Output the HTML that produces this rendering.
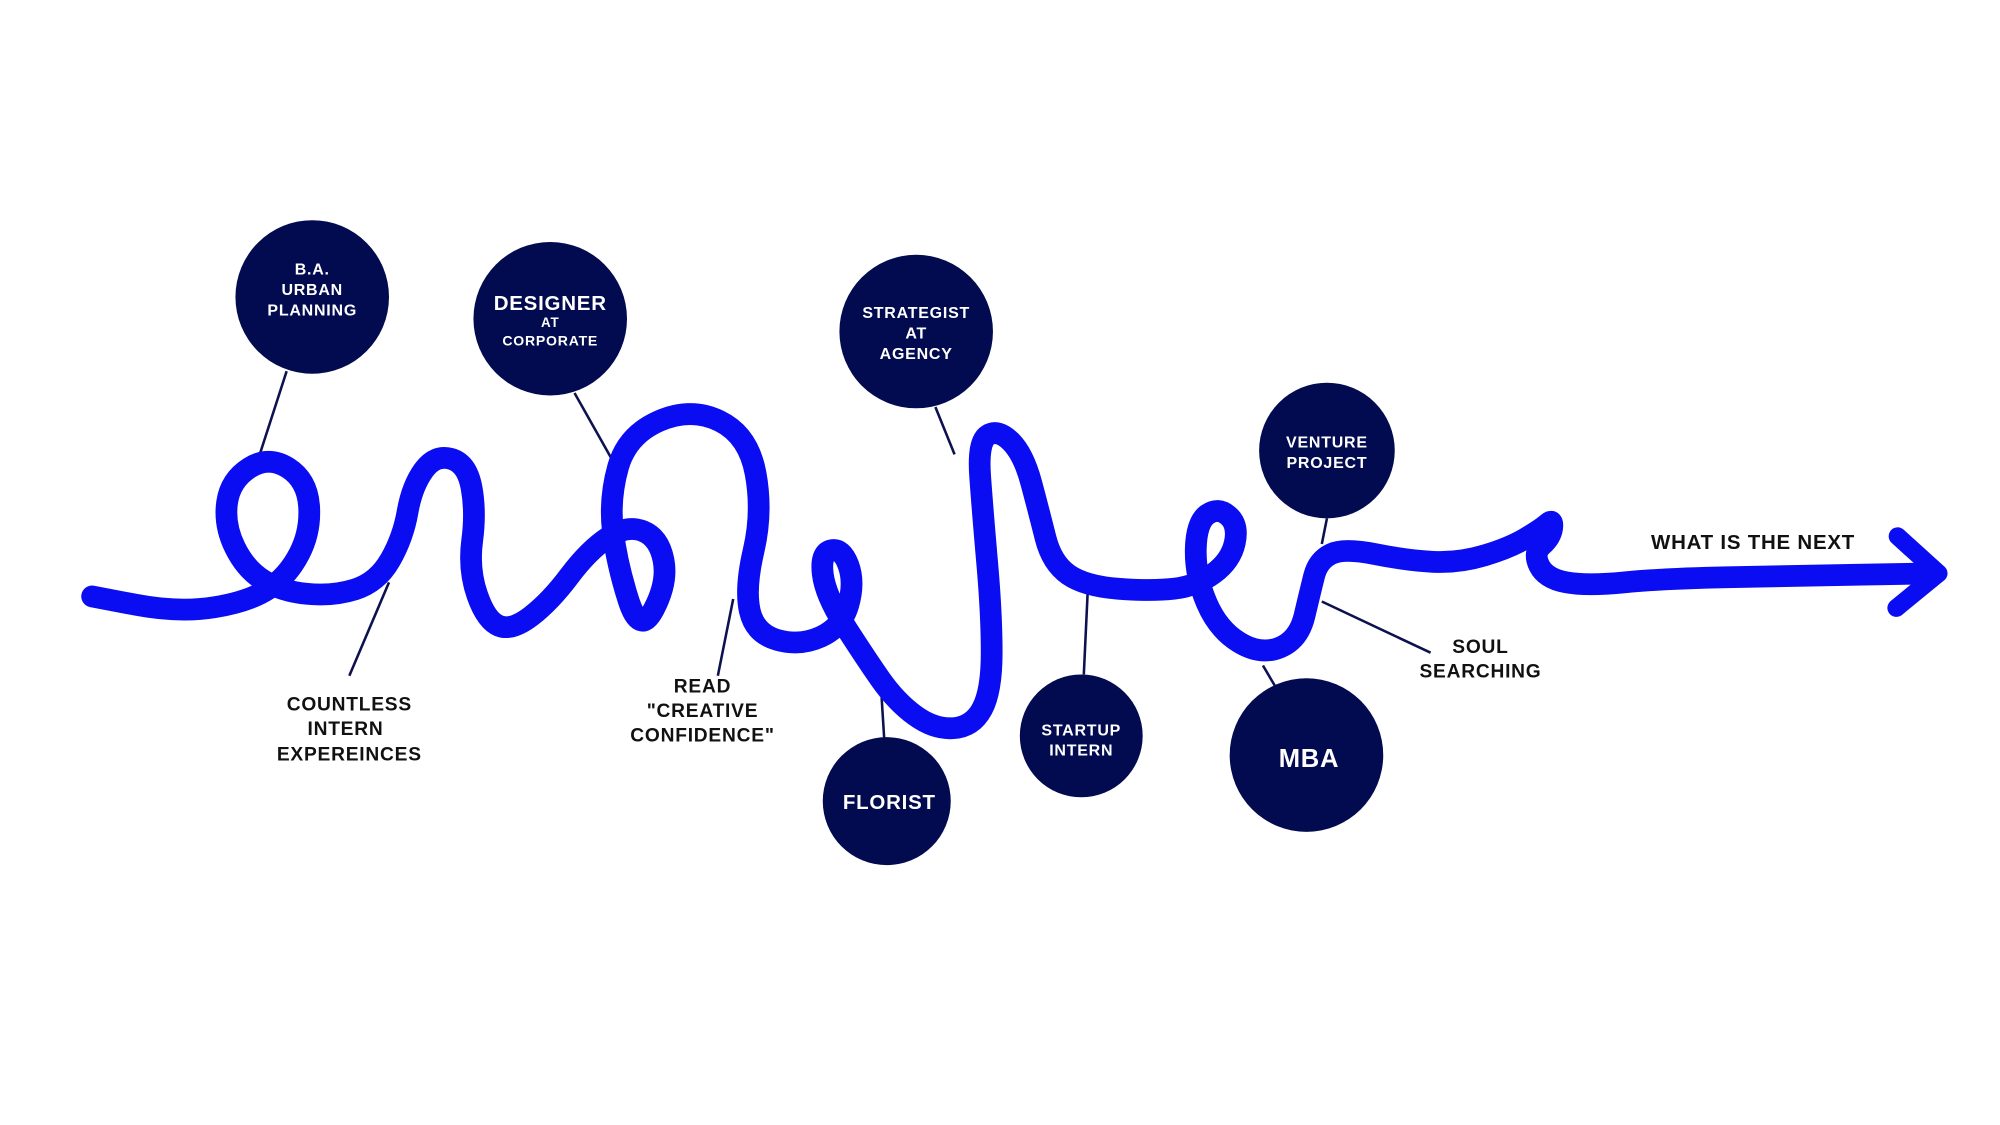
<!DOCTYPE html>
<html><head><meta charset="utf-8"><style>
html,body{margin:0;padding:0;background:#fff;}
svg{display:block;}
text{font-family:"Liberation Sans","DejaVu Sans",sans-serif;font-weight:bold;text-anchor:middle;dominant-baseline:central;letter-spacing:0.6px;}
.w{fill:#fff;}
.k{fill:#111;font-size:15px;}
</style></head><body>
<svg width="2000" height="1125" viewBox="0 0 1563 879" xmlns="http://www.w3.org/2000/svg">
<rect width="1563" height="879" fill="#fff"/>
<g stroke="#0d1150" stroke-width="2" fill="none">
<line x1="224" y1="290" x2="203" y2="355"/>
<line x1="449" y1="307" x2="480" y2="362"/>
<line x1="731" y1="318" x2="746" y2="355"/>
<line x1="1037" y1="405" x2="1033" y2="425"/>
<line x1="304" y1="455" x2="273" y2="528"/>
<line x1="573" y1="468" x2="561" y2="528"/>
<line x1="689" y1="545" x2="691" y2="577"/>
<line x1="850" y1="463" x2="847" y2="527"/>
<line x1="987" y1="520" x2="997" y2="537"/>
<line x1="1033" y1="470" x2="1118" y2="510"/>
</g>
<path d="M72,466 L106,472.5
Q140,479 167.5,474.5 Q195,470 210,460 Q225,450 234,432.5 Q243,415 241.5,395 Q240,375 225,365.5 Q210,356 195,365.5 Q180,375 177.5,392.5 Q175,410 183.5,427.5 Q192,445 206,453.5 Q220,462 240,464 Q260,466 277.5,460.5 Q295,455 305,437.5 Q315,420 318.5,400 Q322,380 331,367.5 Q340,355 352.5,358.5 Q365,362 368.5,381 Q372,400 369,422.5 Q366,445 373,465 Q380,485 390,489 Q400,493 415,481.5 Q430,470 445,450 Q460,430 475,420 Q490,410 502.5,415 Q515,420 518.5,437.5 Q522,455 511,476 Q500,497 491,468.5 Q482,440 479,415 Q476,390 483,365 Q490,340 515,329 Q540,318 562.5,329 Q585,340 590.5,370 Q596,400 589,430 Q582,460 586,477.5 Q590,495 607.5,500 Q625,505 641.5,497.5 Q658,490 663,472.5 Q668,455 663,441.5 Q658,428 649.5,430 Q641,432 643,448.5 Q645,465 660,488.5 Q675,512 687.5,530 Q700,548 715,559 Q730,570 745,569 Q760,568 767.5,554 Q775,540 775,510 Q775,480 771.5,440 Q768,400 766,372.5 Q764,345 772,340 Q780,335 790,345 Q800,355 806,377.5 Q812,400 817,420 Q822,440 835,449 Q848,458 874,460 Q900,462 917.5,460 Q935,458 948.5,448 Q962,438 965,424 Q968,410 960,403 Q952,396 943.5,402 Q935,408 934.5,429 Q934,450 943,471 Q952,492 968.5,502 Q985,512 1000,506 Q1015,500 1019.5,481 Q1024,462 1027,450 Q1030,438 1040,433 Q1050,428 1075,433 Q1100,438 1120,439 Q1140,440 1160,434 Q1180,428 1192.5,420.5 Q1205,413 1209.5,409 Q1214,405 1213,412.5 Q1212,420 1205,426 Q1198,432 1203,442 Q1208,452 1224,455 Q1240,458 1270,455 Q1300,452 1350,451 Q1400,450 1456,449 L1512,448" stroke="#0a0cf2" stroke-width="17" fill="none" stroke-linecap="round" stroke-linejoin="round"/>
<path d="M1483,419 L1515,448 L1482,475" stroke="#0a0cf2" stroke-width="14" fill="none" stroke-linecap="round" stroke-linejoin="round"/>
<g fill="#020b4f">
<circle cx="244" cy="232" r="60"/>
<circle cx="430" cy="249" r="60"/>
<circle cx="716" cy="259" r="60"/>
<circle cx="1037" cy="352" r="53"/>
<circle cx="693" cy="626" r="50"/>
<circle cx="845" cy="575" r="48"/>
<circle cx="1021" cy="590" r="60"/>
</g>
<g class="w">
<text x="244" y="211" font-size="12.5">B.A.</text>
<text x="244" y="227" font-size="12.5">URBAN</text>
<text x="244" y="243" font-size="12.5">PLANNING</text>
<text x="430" y="237" font-size="16">DESIGNER</text>
<text x="430" y="252" font-size="10.5">AT</text>
<text x="430" y="266" font-size="11">CORPORATE</text>
<text x="716" y="245" font-size="12.5">STRATEGIST</text>
<text x="716" y="261" font-size="12.5">AT</text>
<text x="716" y="277" font-size="12.5">AGENCY</text>
<text x="1037" y="346" font-size="12.5">VENTURE</text>
<text x="1037" y="362" font-size="12.5">PROJECT</text>
<text x="695" y="627" font-size="16">FLORIST</text>
<text x="845" y="571" font-size="12.5">STARTUP</text>
<text x="845" y="587" font-size="12.5">INTERN</text>
<text x="1023" y="593" font-size="20">MBA</text>
</g>
<g class="k">
<text x="273" y="551">COUNTLESS</text>
<text x="270" y="570">INTERN</text>
<text x="273" y="590">EXPEREINCES</text>
<text x="549" y="537">READ</text>
<text x="549" y="556">"CREATIVE</text>
<text x="549" y="575">CONFIDENCE"</text>
<text x="1157" y="506">SOUL</text>
<text x="1157" y="525">SEARCHING</text>
<text x="1370" y="424" font-size="16">WHAT IS THE NEXT</text>
</g>
</svg>
</body></html>
